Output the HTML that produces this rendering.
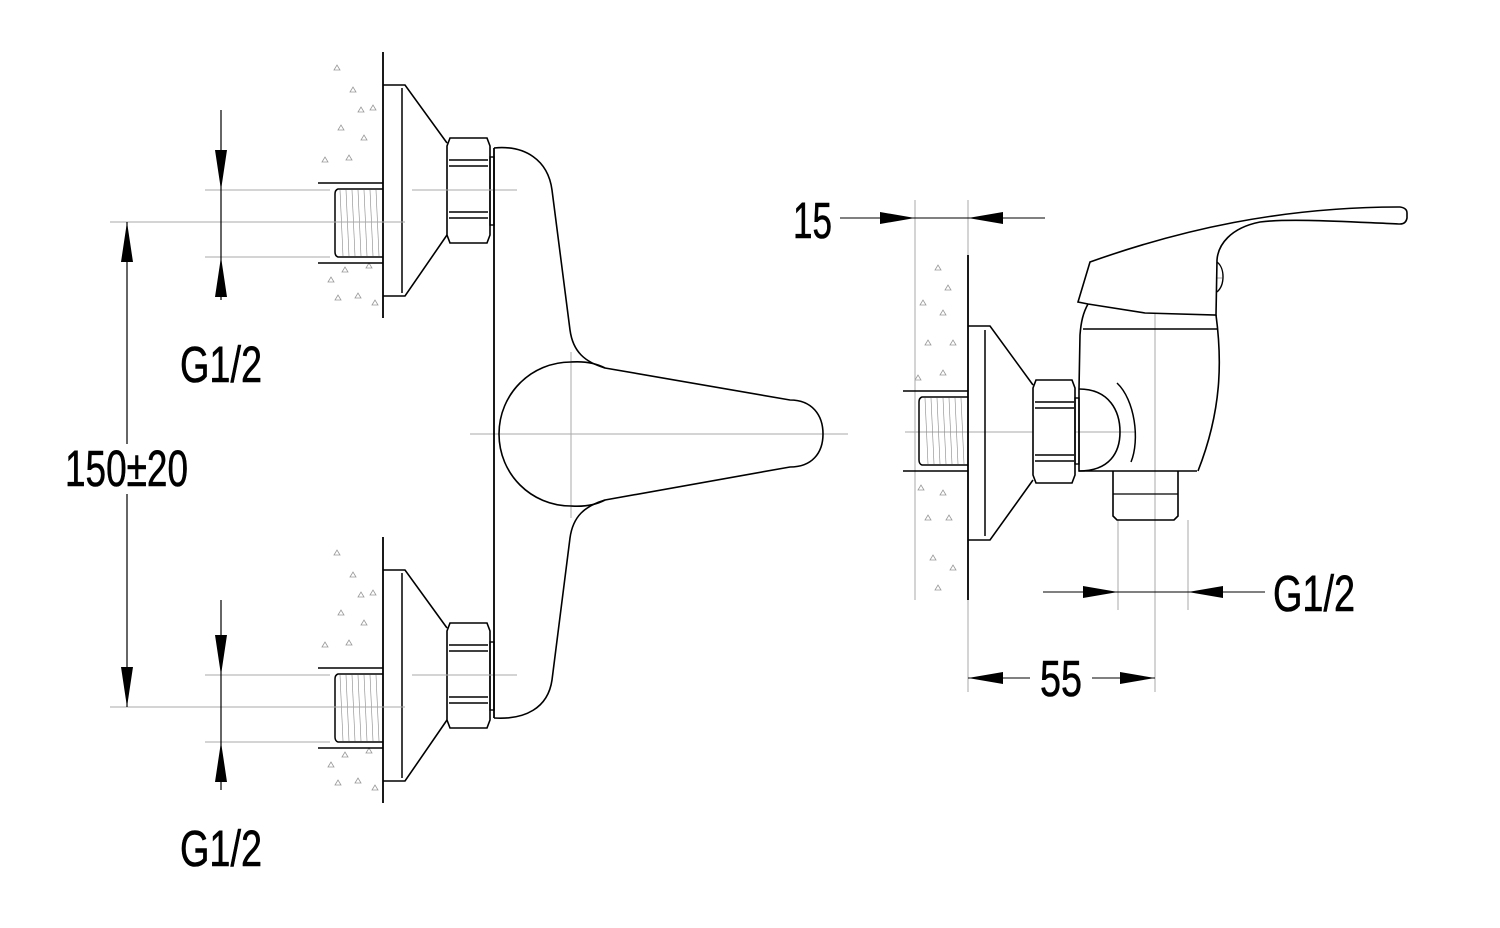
<!DOCTYPE html>
<html><head><meta charset="utf-8"><style>
html,body{margin:0;padding:0;background:#fff;width:1500px;height:928px;overflow:hidden}
svg{display:block}
text{font-family:"Liberation Sans Narrow","Liberation Sans",sans-serif;fill:#000;stroke:#000;stroke-width:0.6}
</style></head><body>
<svg width="1500" height="928" viewBox="0 0 1500 928" xmlns="http://www.w3.org/2000/svg">
<defs>
<g id="fit">
  <g fill="none" stroke="#999" stroke-width="0.8">
    <path d="M334,70 l3,-5 l3,5z M350,92 l3,-5 l3,5z M370,110 l3,-5 l3,5z M338,130 l3,-5 l3,5z M361,140 l3,-5 l3,5z M322,162 l3,-5 l3,5z M346,160 l3,-5 l3,5z M358,112 l3,-5 l3,5z M335,300 l3,-5 l3,5z M355,298 l3,-5 l3,5z M372,305 l3,-5 l3,5z M342,272 l3,-5 l3,5z M366,268 l3,-5 l3,5z M328,282 l3,-5 l3,5z"/>
  </g>
  <line x1="383" y1="52" x2="383" y2="318" stroke="#000" stroke-width="1.8"/>
  <line x1="318" y1="183" x2="383" y2="183" stroke="#000" stroke-width="1.5"/>
  <line x1="318" y1="263" x2="383" y2="263" stroke="#000" stroke-width="1.5"/>
  <path d="M383,189 L338,189 Q335,190 335,194 L335,252 Q335,256 338,257 L383,257" fill="none" stroke="#000" stroke-width="1.5"/>
  <g stroke="#888" stroke-width="0.6">
    <line x1="340" y1="190" x2="343" y2="256"/><line x1="346" y1="190" x2="349" y2="256"/><line x1="352" y1="190" x2="355" y2="256"/><line x1="358" y1="190" x2="361" y2="256"/><line x1="364" y1="190" x2="367" y2="256"/><line x1="370" y1="190" x2="373" y2="256"/><line x1="376" y1="190" x2="379" y2="256"/>
  </g>
  <path d="M383,85 L405,85 L447,143 M383,296 L405,296 L447,235" fill="none" stroke="#000" stroke-width="1.6"/>
  <line x1="402" y1="88" x2="402" y2="293" stroke="#000" stroke-width="1.5"/>
  <path d="M450,138 L487,138 L490,146 L490,235 L487,243 L450,243 L447,235 L447,146 Z" fill="#fff" stroke="#000" stroke-width="1.6"/>
  <path d="M449,160 L488,160 M449,166 L488,166 M449,212 L488,212 M449,218 L488,218" stroke="#000" stroke-width="1.4"/>
  <rect x="490" y="157" width="4" height="68" fill="none" stroke="#000" stroke-width="1.4"/>
  <g stroke="#aaa" stroke-width="1">
    <line x1="412" y1="190" x2="517" y2="190"/>
    <line x1="318" y1="222" x2="405" y2="222"/>
  </g>
</g>
</defs>

<g stroke="#aaa" stroke-width="1">
  <line x1="110" y1="222" x2="320" y2="222"/>
  <line x1="205" y1="190" x2="330" y2="190"/>
  <line x1="205" y1="257" x2="330" y2="257"/>
  <line x1="110" y1="707" x2="320" y2="707"/>
  <line x1="205" y1="675" x2="330" y2="675"/>
  <line x1="205" y1="742" x2="330" y2="742"/>
  <line x1="470" y1="434" x2="848" y2="434"/>
  <line x1="571" y1="352" x2="571" y2="518"/>
</g>

<use href="#fit"/>
<use href="#fit" transform="translate(0,485)"/>

<path d="M494,148 L494,718" stroke="#000" stroke-width="1.8"/>
<path d="M494,148 C525,145 548,160 552,190 L570,330 C573,352 585,362 605,368 L790,400 C812,400 823,415 823,434 C823,453 812,467 790,467 L605,500 C585,506 573,516 570,538 L552,680 C548,708 525,720 494,718" fill="none" stroke="#000" stroke-width="1.6"/>
<path d="M605,368 C590,360 573,362 571,362 C531,362 499,394 499,434 C499,474 531,506 571,506 C573,506 590,508 605,500" fill="none" stroke="#000" stroke-width="1.6"/>

<line x1="127" y1="222" x2="127" y2="707" stroke="#000" stroke-width="1.2"/>
<path d="M127,222 L121,262 L133,262Z M127,707 L121,667 L133,667Z" fill="#000"/>
<rect x="62" y="444" width="130" height="50" fill="#fff"/>
<text x="65" y="486" font-size="51" textLength="123" lengthAdjust="spacingAndGlyphs">150±20</text>

<line x1="221" y1="110" x2="221" y2="300" stroke="#000" stroke-width="1.2"/>
<path d="M221,190 L215,150 L227,150Z M221,257 L215,297 L227,297Z" fill="#000"/>
<text x="180" y="382" font-size="51" textLength="82" lengthAdjust="spacingAndGlyphs">G1/2</text>
<line x1="221" y1="600" x2="221" y2="790" stroke="#000" stroke-width="1.2"/>
<path d="M221,675 L215,635 L227,635Z M221,742 L215,782 L227,782Z" fill="#000"/>
<text x="180" y="866" font-size="51" textLength="82" lengthAdjust="spacingAndGlyphs">G1/2</text>

<g fill="none" stroke="#999" stroke-width="0.8">
<path d="M935,270 l3,-5 l3,5z M945,290 l3,-5 l3,5z M920,305 l3,-5 l3,5z M940,315 l3,-5 l3,5z M925,345 l3,-5 l3,5z M950,345 l3,-5 l3,5z M915,380 l3,-5 l3,5z M940,375 l3,-5 l3,5z M918,490 l3,-5 l3,5z M940,495 l3,-5 l3,5z M925,520 l3,-5 l3,5z M946,520 l3,-5 l3,5z M930,560 l3,-5 l3,5z M950,570 l3,-5 l3,5z M935,590 l3,-5 l3,5z"/>
</g>
<g stroke="#aaa" stroke-width="1">
  <line x1="915" y1="200" x2="915" y2="600"/>
  <line x1="968" y1="200" x2="968" y2="260"/>
  <line x1="905" y1="432" x2="1135" y2="432"/>
  <line x1="1155" y1="275" x2="1155" y2="692"/>
  <line x1="1118" y1="520" x2="1118" y2="610"/>
  <line x1="1188" y1="520" x2="1188" y2="610"/>
  <line x1="968" y1="600" x2="968" y2="692"/>
  <line x1="1210" y1="278" x2="1222" y2="278"/>
</g>
<line x1="968" y1="255" x2="968" y2="600" stroke="#000" stroke-width="1.8"/>
<line x1="903" y1="391" x2="968" y2="391" stroke="#000" stroke-width="1.5"/>
<line x1="903" y1="471" x2="968" y2="471" stroke="#000" stroke-width="1.5"/>
<path d="M968,397 L922,397 Q919,398 919,402 L919,460 Q919,464 922,465 L968,465" fill="none" stroke="#000" stroke-width="1.5"/>
<g stroke="#888" stroke-width="0.6">
  <line x1="925" y1="398" x2="928" y2="464"/><line x1="931" y1="398" x2="934" y2="464"/><line x1="937" y1="398" x2="940" y2="464"/><line x1="943" y1="398" x2="946" y2="464"/><line x1="949" y1="398" x2="952" y2="464"/><line x1="955" y1="398" x2="958" y2="464"/><line x1="961" y1="398" x2="964" y2="464"/>
</g>
<path d="M968,326 L990,326 L1033,385 M968,540 L990,540 L1033,480" fill="none" stroke="#000" stroke-width="1.6"/>
<line x1="985" y1="330" x2="985" y2="536" stroke="#000" stroke-width="1.5"/>
<path d="M1036,380 L1072,380 L1075,388 L1075,475 L1072,483 L1036,483 L1033,475 L1033,388 Z" fill="#fff" stroke="#000" stroke-width="1.6"/>
<path d="M1035,402 L1074,402 M1035,408 L1074,408 M1035,455 L1074,455 M1035,461 L1074,461" stroke="#000" stroke-width="1.4"/>
<rect x="1075" y="398" width="4" height="66" fill="none" stroke="#000" stroke-width="1.4"/>
<path d="M1079,389 C1110,389 1120,412 1120,432 C1120,452 1110,471 1079,471" fill="none" stroke="#000" stroke-width="1.6"/>
<path d="M1079,389 L1079,471 L1197,471" fill="none" stroke="#000" stroke-width="1.6"/>
<path d="M1117,383 C1135,400 1140,440 1131,462" fill="none" stroke="#000" stroke-width="1.5"/>
<path d="M1079,389 L1080,335 C1081,322 1083,313 1088,304" fill="none" stroke="#000" stroke-width="1.6"/>
<line x1="1083" y1="329" x2="1218" y2="329" stroke="#000" stroke-width="1.6"/>
<path d="M1216,315 C1222,360 1222,410 1198,471" fill="none" stroke="#000" stroke-width="1.6"/>
<path d="M1078,302 L1090,262 C1180,230 1280,207 1400,207 Q1407,208 1407,213 L1407,218 Q1406,224 1400,224 C1350,222 1290,218 1260,222 C1230,228 1218,245 1217,260 L1216,315 L1145,313 L1088,304 Z" fill="#fff" stroke="#000" stroke-width="1.6"/>
<path d="M1217,262 C1225,268 1225,285 1217,292" fill="none" stroke="#000" stroke-width="1.4"/>
<path d="M1113,471 L1113,516 L1117,520 L1174,520 L1178,516 L1178,471" fill="none" stroke="#000" stroke-width="1.6"/>
<line x1="1113" y1="494" x2="1178" y2="494" stroke="#000" stroke-width="1.2"/>

<line x1="840" y1="218" x2="1045" y2="218" stroke="#000" stroke-width="1.1"/>
<path d="M915,218 L880,212 L880,224Z M968,218 L1003,212 L1003,224Z" fill="#000"/>
<text x="793" y="238" font-size="51" textLength="39" lengthAdjust="spacingAndGlyphs">15</text>
<line x1="1043" y1="592" x2="1265" y2="592" stroke="#000" stroke-width="1.1"/>
<path d="M1118,592 L1083,586 L1083,598Z M1188,592 L1223,586 L1223,598Z" fill="#000"/>
<text x="1273" y="611" font-size="51" textLength="82" lengthAdjust="spacingAndGlyphs">G1/2</text>
<line x1="968" y1="678" x2="1030" y2="678" stroke="#000" stroke-width="1.1"/>
<line x1="1092" y1="678" x2="1155" y2="678" stroke="#000" stroke-width="1.1"/>
<path d="M968,678 L1003,672 L1003,684Z M1155,678 L1120,672 L1120,684Z" fill="#000"/>
<text x="1040" y="696" font-size="51" textLength="42" lengthAdjust="spacingAndGlyphs">55</text>
</svg>
</body></html>
